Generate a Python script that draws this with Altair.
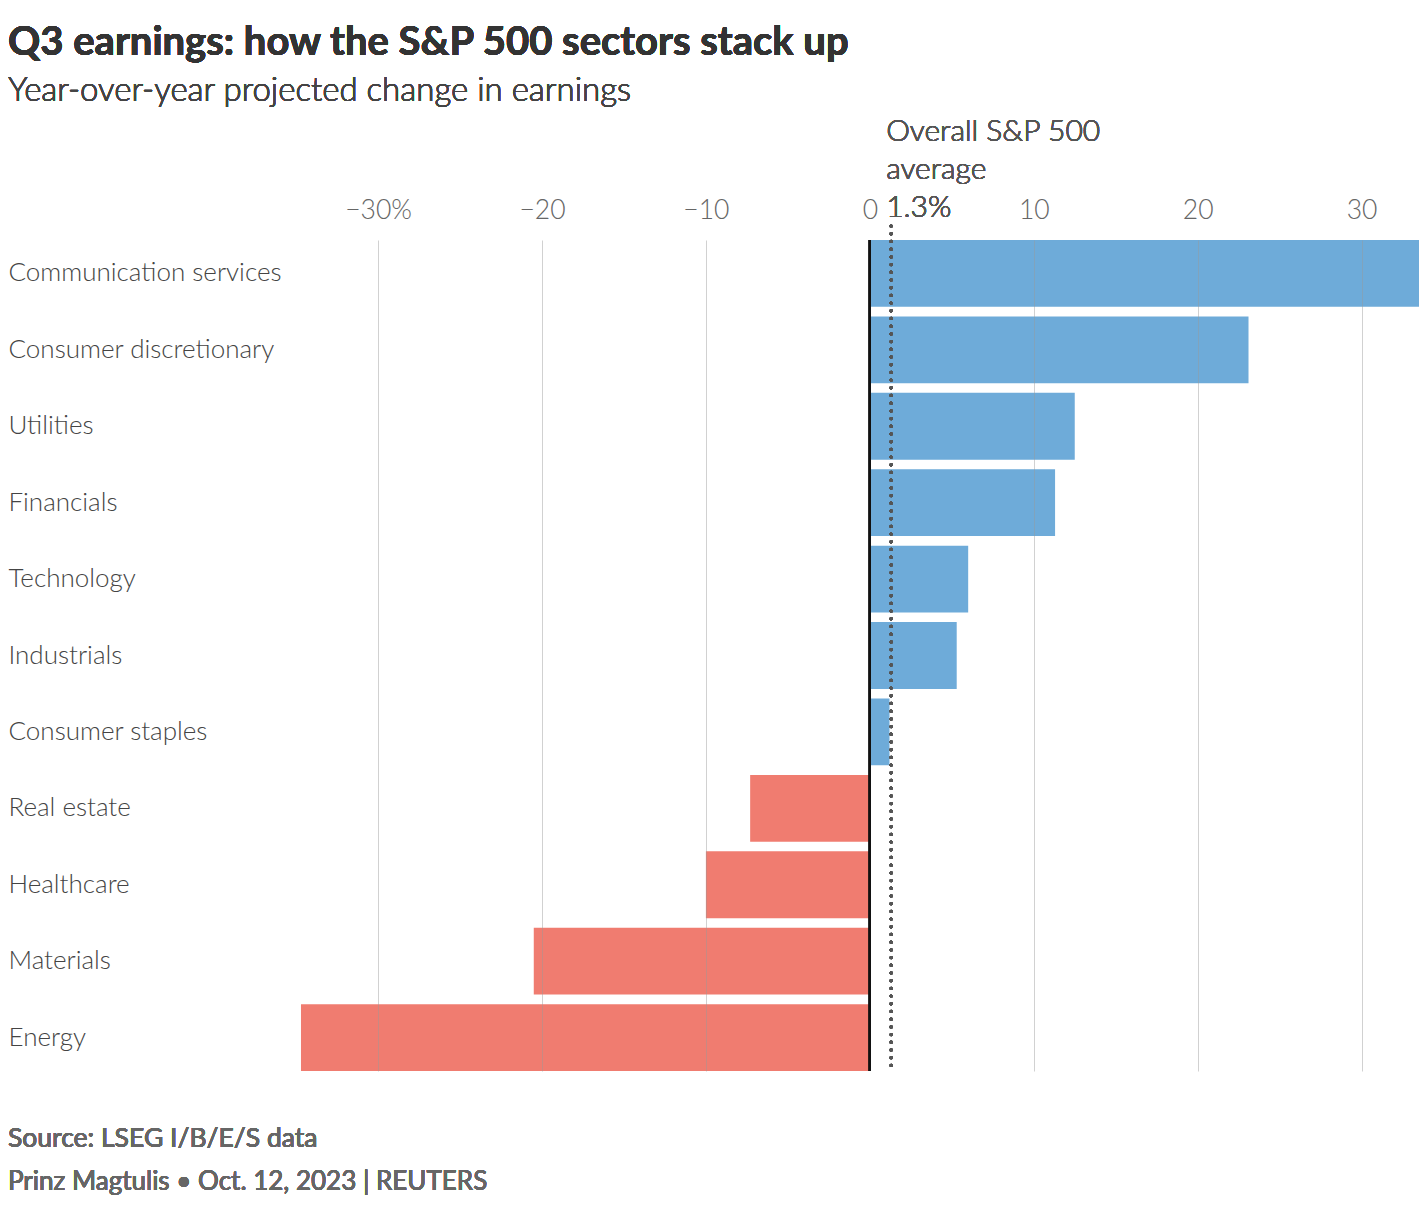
import altair as alt
import pandas as pd

sectors = ["Communication services", "Consumer discretionary", "Utilities", "Financials",
           "Technology", "Industrials", "Consumer staples", "Real estate", "Healthcare",
           "Materials", "Energy"]
changes = [33.8, 23.1, 12.5, 11.3, 6.0, 5.3, 1.2, -7.3, -10.0, -20.5, -34.7]
overall_avg = 1.3
tick_values = [-30, -20, -10, 0, 10, 20, 30]

title_text = "Q3 earnings: how the S&P 500 sectors stack up"
subtitle_text = "Year-over-year projected change in earnings"
annotation_text = "Overall S&P 500\naverage\n1.3%"
source_text = "Source: LSEG I/B/E/S data"
credit_text = "Prinz Magtulis \u2022 Oct. 12, 2023 | REUTERS"

df = pd.DataFrame({"sector": sectors, "change": changes})
df["sign"] = ["pos" if v >= 0 else "neg" for v in changes]

FONT = "Lato"
LIGHT = 300
W, H = 1129, 831
L, T, B = 282, 232, 125

x_scale = alt.Scale(domain=[-35.37, 33.5], nice=False, zero=False)

x_axis = alt.Axis(
    orient="top", values=tick_values, title=None, domain=False, ticks=False,
    labelFont=FONT, labelFontSize=26.5, labelFontWeight=LIGHT, labelColor="#666", labelPadding=16,
    labelExpr="datum.value == -30 ? '\u221230%' : replace(format(datum.value, 'd'), '-', '\u2212')",
    grid=True, gridColor="#999",
    gridOpacity={"condition": {"test": "datum.value === 0", "value": 0}, "value": 0.45},
    zindex=1,
)

y_axis = alt.Axis(
    title=None, domain=False, ticks=False, grid=False,
    labelAlign="left", labelPadding=L, labelFont=FONT, labelFontSize=26,
    labelFontWeight=LIGHT, labelColor="#444", labelLimit=400,
)

bars = alt.Chart(df).mark_bar(clip=True).encode(
    x=alt.X("change:Q", scale=x_scale, axis=x_axis),
    y=alt.Y("sector:N", sort=sectors, axis=y_axis,
            scale=alt.Scale(paddingInner=0.125, paddingOuter=0)),
    color=alt.Color("sign:N", scale=alt.Scale(domain=["pos", "neg"], range=["#6eabd9", "#f07c70"]),
                    legend=None),
)

zero_rule = alt.Chart(df).mark_rule(color="#111", strokeWidth=2).encode(
    x=alt.datum(0)
)

avg_rule = alt.Chart(df).mark_rule(
    color="#555", strokeWidth=3.2, strokeDash=[0.1, 7.6], strokeCap="round"
).encode(
    x=alt.datum(overall_avg), y=alt.value(-14), y2=alt.value(H)
)

annotation = alt.Chart(df).mark_text(
    align="left", baseline="alphabetic", font=FONT, fontSize=30, fontWeight=LIGHT, color="#555",
    lineBreak="\n", lineHeight=38, dx=-5
).encode(
    x=alt.datum(overall_avg), y=alt.value(-99), text=alt.value(annotation_text)
)

title = alt.Chart(df).mark_text(
    align="left", baseline="alphabetic", font=FONT, fontSize=40, fontWeight="bold", color="#333"
).encode(x=alt.value(-L), y=alt.value(-185), text=alt.value(title_text))

subtitle = alt.Chart(df).mark_text(
    align="left", baseline="alphabetic", font=FONT, fontSize=33, fontWeight=LIGHT, color="#444"
).encode(x=alt.value(-L), y=alt.value(-139), text=alt.value(subtitle_text))

source = alt.Chart(df).mark_text(
    align="left", baseline="alphabetic", font=FONT, fontSize=26.5, color="#666"
).encode(x=alt.value(-L), y=alt.value(907), text=alt.value(source_text))

credit = alt.Chart(df).mark_text(
    align="left", baseline="alphabetic", font=FONT, fontSize=26, color="#666"
).encode(x=alt.value(-L), y=alt.value(950), text=alt.value(credit_text))

chart = alt.layer(
    bars, zero_rule, avg_rule, annotation, title, subtitle, source, credit
).properties(
    width=W, height=H,
    background="white",
    autosize=alt.AutoSizeParams(type="none"),
    padding={"left": L, "top": T, "right": 0, "bottom": B},
).configure_view(strokeWidth=0, stroke=None)

chart.save("out.html", embed_options={"renderer": "svg", "actions": False})
